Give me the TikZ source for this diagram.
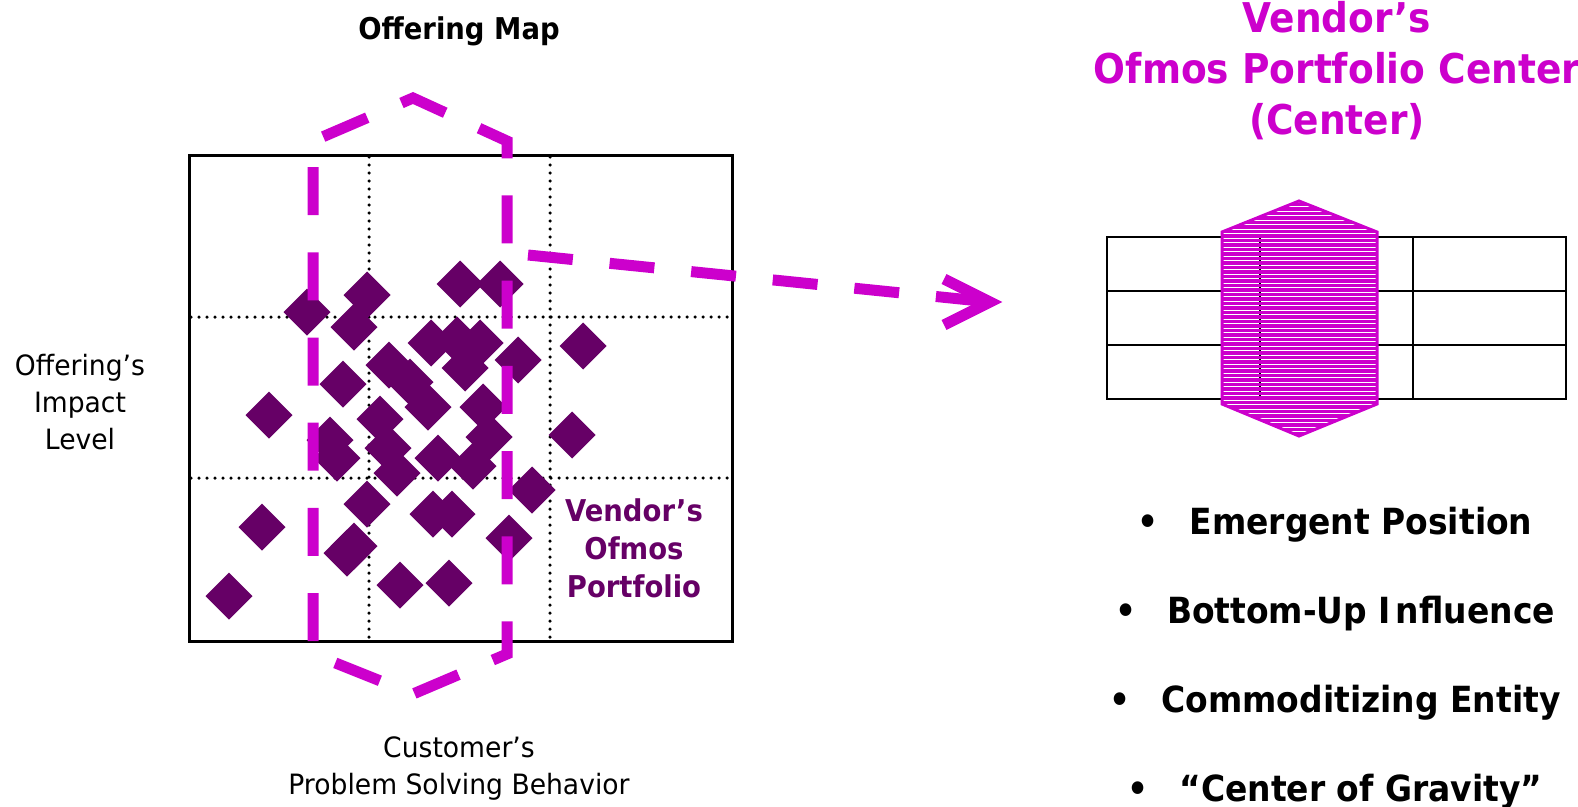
\documentclass[tikz,border=0pt]{standalone}
\usepackage{fontspec}
\setmainfont{DejaVu Sans}[FakeStretch=0.95]
\newfontfamily\bfam{DejaVu Sans}[FakeStretch=0.915]
\definecolor{mag}{HTML}{CC00CC}
\definecolor{plum}{HTML}{660066}
\begin{document}
\begin{tikzpicture}[x=1pt,y=-1pt,
  regtext/.style={inner sep=0pt, anchor=base, font=\fontsize{28}{34}\selectfont},
  boldtext/.style={inner sep=0pt, anchor=base, font=\bfam\bfseries\fontsize{36}{40}\selectfont},
  maptitle/.style={inner sep=0pt, anchor=base, font=\bfam\bfseries\fontsize{30}{34}\selectfont},
  purptext/.style={inner sep=0pt, anchor=base, text=plum, font=\bfam\bfseries\fontsize{30}{34}\selectfont},
  magtext/.style={inner sep=0pt, anchor=base, text=mag, font=\bfam\bfseries\fontsize{41}{46}\selectfont},
  gridframe/.style={draw=black, line width=3pt},
  dotgrid/.style={draw=black, line width=3.5pt, line cap=round, dash pattern=on 0pt off 8pt},
  tableline/.style={draw=black, line width=2pt},
  dmd/.style={fill=plum},
  hexdash/.style={draw=mag, line width=11pt, dash pattern=on 48pt off 37.2pt, dash phase=61.2pt, line join=miter},
  arrdash/.style={draw=mag, line width=11pt, dash pattern=on 45pt off 37pt},
  arrhead/.style={draw=mag, line width=11pt, line join=miter, miter limit=10},
  stripe/.style={draw=mag, line width=3.4pt},
  hexline/.style={draw=mag, line width=3pt, line join=miter}
]
\useasboundingbox (0,0) rectangle (1578,806);

% ---------- Offering map grid ----------
\draw[dotgrid] (369,157) -- (369,639);
\draw[dotgrid] (550,157) -- (550,639);
\draw[dotgrid] (191,317) -- (730,317);
\draw[dotgrid] (191,478) -- (730,478);
\draw[gridframe] (189,155) rectangle (732,641);

% ---------- diamonds ----------
\foreach \x/\y in {307/312, 367/295, 354/327, 460/284, 500/284, 431/343, 457/340, 480/343,
                   465/368, 518/360, 583/346, 343/384, 389/365, 410/382, 269/415, 380/419,
                   428/407, 483/407, 330/440, 337/458, 388/448, 489/437, 572/435, 397/473,
                   438/458, 473/466, 532/490, 367/504, 433/514, 452/514, 262/527, 509/538,
                   354/546, 347/553, 400/585, 449/583, 229/596}
  \fill[dmd] (\x-23.5,\y) -- (\x,\y-23.5) -- (\x+23.5,\y) -- (\x,\y+23.5) -- cycle;

% ---------- dashed hexagon ----------
\draw[hexdash] (313,654) -- (413,694) -- (507,654) -- (507,141) -- (413,98) -- (313,141) -- cycle;

% ---------- arrow ----------
\coordinate (arrS) at (528,255);
\coordinate (arrT) at (990,302);
\coordinate (arrU) at (944,279);
\coordinate (arrL) at (944,325);
\draw[arrdash] (arrS) -- (arrT);
\draw[arrhead] (arrU) -- (arrT) -- (arrL);

% ---------- right table ----------
\draw[tableline] (1107,237) rectangle (1566,399);
\draw[tableline] (1107,291) -- (1566,291);
\draw[tableline] (1107,345) -- (1566,345);
\draw[tableline] (1260,237) -- (1260,399);
\draw[tableline] (1413,237) -- (1413,399);

% ---------- striped hexagon ----------
\begin{scope}
  \clip (1299,201) -- (1377,232) -- (1377,404) -- (1299,436) -- (1222,404) -- (1222,232) -- cycle;
  \fill[white] (1222,228) rectangle (1377,238);
  \foreach \k in {0,...,53}
    \draw[stripe] (1215,200+4.5*\k) -- (1385,200+4.5*\k);
\end{scope}
\draw[hexline] (1299,201) -- (1377,232) -- (1377,404) -- (1299,436) -- (1222,404) -- (1222,232) -- cycle;

% ---------- texts ----------
\node[maptitle] (title) at (459,39) {Offering Map};

\node[regtext] (yl1) at (80,375) {Offering’s};
\node[regtext] (yl2) at (80,412) {Impact};
\node[regtext] (yl3) at (80,449) {Level};

\node[regtext] (xl1) at (459,757) {Customer’s};
\node[regtext] (xl2) at (459,794) {Problem Solving Behavior};

\node[purptext] (pv1) at (634,521) {Vendor’s};
\node[purptext] (pv2) at (634,559) {Ofmos};
\node[purptext] (pv3) at (634,597) {Portfolio};

\node[magtext] (mt1) at (1337,32) {Vendor’s};
\node[magtext] (mt2) at (1337,83) {Ofmos Portfolio Center};
\node[magtext] (mt3) at (1337,134) {(Center)};

\node[boldtext] (b1) at (1361,534) {Emergent Position};
\node[boldtext] (b2) at (1361,623) {Bottom-Up I\kern5pt nfluence};
\node[boldtext] (b3) at (1361,712) {Commoditizing Entity};
\node[boldtext] (b4) at (1361,801) {“Center of Gravity”};
\path (b1.base west) ++(-41,0) node[boldtext] (d1) {•};
\path (b2.base west) ++(-41,0) node[boldtext] (d2) {•};
\path (b3.base west) ++(-41,0) node[boldtext] (d3) {•};
\path (b4.base west) ++(-41,0) node[boldtext] (d4) {•};
\end{tikzpicture}
\end{document}
